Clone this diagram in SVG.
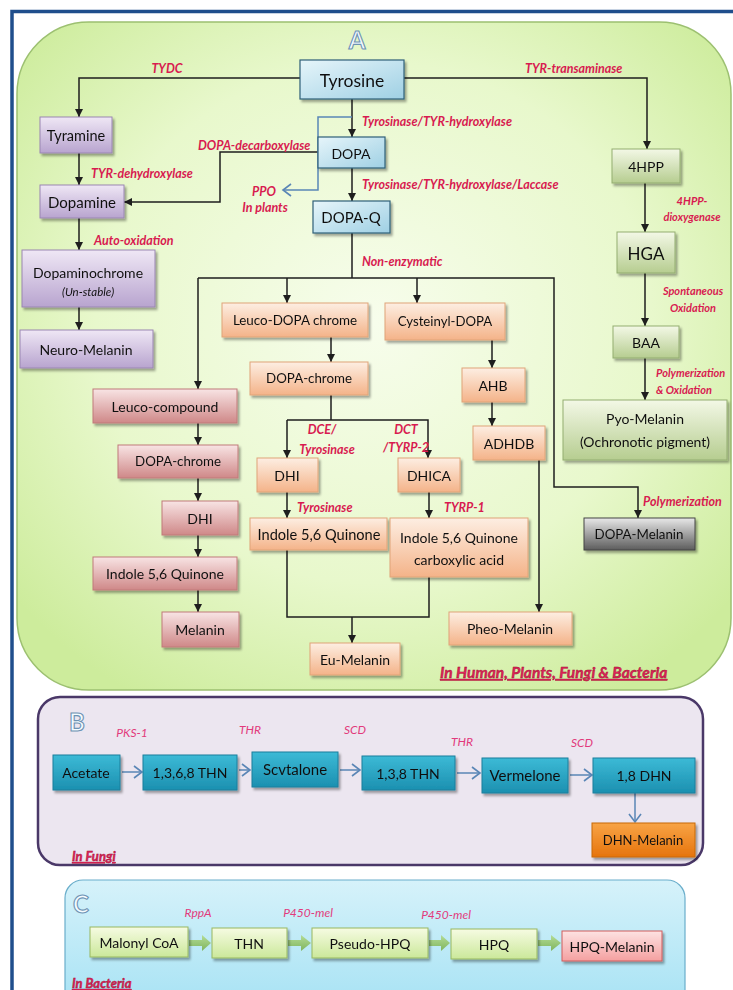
<svg xmlns="http://www.w3.org/2000/svg" width="733" height="990" viewBox="0 0 733 990">
<style>
text{font-family:Lato,"Noto Sans","Liberation Sans",sans-serif}
.t{font-size:14px;fill:#111;text-anchor:middle;dominant-baseline:central}
.l{font-size:12.5px;font-style:italic;font-weight:bold;fill:#d81b50}
.s{font-size:11px}
.m{text-anchor:middle}
.lb{font-size:12px;font-style:italic;fill:#e23a7c;text-anchor:middle}
.big{font-size:24px;font-weight:bold;fill:#f4fbff;stroke:#6e93b4;stroke-width:1.1;text-anchor:middle}
.reg{font-style:italic;font-weight:bold;fill:#e0245a;stroke:#9a0c2c;stroke-width:0.4;text-decoration:underline}
.c{fill:none;stroke:#1e1e1e;stroke-width:1.5}
.ca{fill:none;stroke:#1e1e1e;stroke-width:1.5;marker-end:url(#ah)}
.cb{fill:none;stroke:#5a86b6;stroke-width:1.5;marker-end:url(#ob)}
.ga{fill:url(#gA);stroke:#2f5f78;stroke-width:1.2}
.gp{fill:url(#gP);stroke:#9a86b2;stroke-width:1}
.gg{fill:url(#gG);stroke:#93ad70;stroke-width:1}
.go{fill:url(#gO);stroke:#e0a478;stroke-width:1}
.gk{fill:url(#gK);stroke:#c07a7a;stroke-width:1}
.gy{fill:url(#gY);stroke:#444;stroke-width:1}
.gt{fill:url(#gT);stroke:#1d7f9c;stroke-width:1}
.gd{fill:url(#gD);stroke:#c86808;stroke-width:1}
.gl{fill:url(#gL);stroke:#98b860;stroke-width:1}
.gh{fill:url(#gH);stroke:#d05c5c;stroke-width:1}
.sh{filter:url(#ds)}
</style>
<defs>
<filter id="ds" x="-10%" y="-10%" width="130%" height="140%"><feDropShadow dx="2" dy="2.5" stdDeviation="1.3" flood-color="#000" flood-opacity="0.35"/></filter>
<marker id="ah" markerUnits="userSpaceOnUse" markerWidth="9" markerHeight="9" refX="8" refY="4.5" orient="auto"><path d="M0,0.5 L8,4.5 L0,8.5 z" fill="#1e1e1e"/></marker>
<marker id="ob" markerUnits="userSpaceOnUse" markerWidth="12" markerHeight="14" refX="10" refY="7" orient="auto"><path d="M2,1 L10,7 L2,13" fill="none" stroke="#5a86b6" stroke-width="1.6"/></marker>
<radialGradient id="gPanA" cx="50%" cy="45%" r="65%"><stop offset="0" stop-color="#f7fdec"/><stop offset="0.6" stop-color="#e8f8cc"/><stop offset="1" stop-color="#cdec9c"/></radialGradient>
<linearGradient id="gPanC" x1="0" y1="0" x2="0" y2="1"><stop offset="0" stop-color="#d6f2fa"/><stop offset="1" stop-color="#a6e2f4"/></linearGradient>
<linearGradient id="gA" x1="0" y1="0" x2="1" y2="1"><stop offset="0" stop-color="#e6f5fa"/><stop offset="1" stop-color="#9fd0e4"/></linearGradient>
<linearGradient id="gP" x1="0" y1="0" x2="0" y2="1"><stop offset="0" stop-color="#efe7f5"/><stop offset="1" stop-color="#b8a4cf"/></linearGradient>
<linearGradient id="gG" x1="0" y1="0" x2="0" y2="1"><stop offset="0" stop-color="#f3f8e6"/><stop offset="1" stop-color="#b6cd90"/></linearGradient>
<linearGradient id="gO" x1="0" y1="0" x2="0" y2="1"><stop offset="0" stop-color="#fdeee2"/><stop offset="1" stop-color="#f4b389"/></linearGradient>
<linearGradient id="gK" x1="0" y1="0" x2="0" y2="1"><stop offset="0" stop-color="#f8e4e4"/><stop offset="1" stop-color="#cf8888"/></linearGradient>
<linearGradient id="gY" x1="0" y1="0" x2="0" y2="1"><stop offset="0" stop-color="#e8e8e8"/><stop offset="1" stop-color="#5c5c5c"/></linearGradient>
<linearGradient id="gT" x1="0" y1="0" x2="0" y2="1"><stop offset="0" stop-color="#3cbad6"/><stop offset="1" stop-color="#1c90b0"/></linearGradient>
<linearGradient id="gD" x1="0" y1="0" x2="0" y2="1"><stop offset="0" stop-color="#f8a446"/><stop offset="1" stop-color="#e6740c"/></linearGradient>
<linearGradient id="gL" x1="0" y1="0" x2="0" y2="1"><stop offset="0" stop-color="#f6fbe2"/><stop offset="1" stop-color="#cbe89a"/></linearGradient>
<linearGradient id="gH" x1="0" y1="0" x2="0" y2="1"><stop offset="0" stop-color="#fde2e2"/><stop offset="1" stop-color="#f4a0a0"/></linearGradient>
<linearGradient id="gArr" x1="0" y1="0" x2="0" y2="1"><stop offset="0" stop-color="#b4dc96"/><stop offset="1" stop-color="#7fb45e"/></linearGradient>
</defs>
<rect width="733" height="990" fill="#ffffff"/>
<!-- frame -->
<path d="M12,990 V11.5 H733" fill="none" stroke="#1f4e8c" stroke-width="3.5"/>
<!-- panels -->
<rect id="panelA" x="17" y="22" width="714" height="668" rx="72" fill="url(#gPanA)" stroke="#9cc070" stroke-width="1.5"/>
<rect id="panelB" x="38" y="697" width="665" height="168" rx="22" fill="#ece6f0" stroke="#4a3868" stroke-width="2.5"/>
<rect id="panelC" x="65" y="880" width="620" height="130" rx="18" fill="url(#gPanC)" stroke="#6aaecb" stroke-width="1.2"/>
<text class="big" x="357" y="49">A</text>
<text class="big" x="77" y="731">B</text>
<text class="big" x="81" y="913">C</text>

<g id="connectors">
<path class="ca" d="M300,78 H79 V117"/>
<path class="ca" d="M404,78 H647 V149"/>
<path class="ca" d="M352,99 V137"/>
<path class="ca" d="M352,168 V201"/>
<path class="ca" d="M318,152 H220 V202 H124"/>
<path class="cb" d="M352,117 H318 V190 H283"/>
<path class="ca" d="M79,153 V185"/>
<path class="ca" d="M79,218 V250"/>
<path class="ca" d="M79,307 V330"/>
<path class="c" d="M352,233 V278"/>
<path class="ca" d="M198,278 V389"/>
<path class="ca" d="M198,278 H554 V487 H638 V518"/>
<path class="ca" d="M287,278 V303"/>
<path class="ca" d="M417,278 V303"/>
<path class="ca" d="M331,337 V362"/>
<path class="c" d="M331,395 V420"/>
<path class="ca" d="M287,420 V458"/>
<path class="ca" d="M287,420 H428 V458"/>
<path class="ca" d="M287,492 V518"/>
<path class="ca" d="M429,492 V518"/>
<path class="c" d="M287,550 V617 H429 V577"/>
<path class="ca" d="M352,617 V643"/>
<path class="ca" d="M492,340 V368"/>
<path class="ca" d="M492,402 V426"/>
<path class="ca" d="M539,460 V612"/>
<path class="ca" d="M645,183 V232"/>
<path class="ca" d="M645,273 V326"/>
<path class="ca" d="M645,358 V400"/>
<path class="ca" d="M198,423 V445"/>
<path class="ca" d="M198,478 V501"/>
<path class="ca" d="M198,535 V557"/>
<path class="ca" d="M198,590 V612"/>
<!-- panel B -->
<path class="cb" d="M122,772 H142"/>
<path class="cb" d="M239,770 H250"/>
<path class="cb" d="M340,770 H360"/>
<path class="cb" d="M457,773 H480"/>
<path class="cb" d="M570,775 H592"/>
<path class="cb" d="M635,793 V822"/>
<!-- panel C block arrows -->
<polygon fill="url(#gArr)" points="189,940 202,940 202,935 211,943 202,951 202,946 189,946"/>
<polygon fill="url(#gArr)" points="288,940 301,940 301,935 311,943 301,951 301,946 288,946"/>
<polygon fill="url(#gArr)" points="429,940 441,940 441,935 450,943 441,951 441,946 429,946"/>
<polygon fill="url(#gArr)" points="538,940 551,940 551,935 561,943 551,951 551,946 538,946"/>
</g>

<g id="labels">
<text class="l m" x="167" y="73">TYDC</text>
<text class="l" x="525" y="73">TYR-transaminase</text>
<text class="l" x="362" y="126">Tyrosinase/TYR-hydroxylase</text>
<text class="l" x="198" y="150">DOPA-decarboxylase</text>
<text class="l" x="91" y="178">TYR-dehydroxylase</text>
<text class="l m" x="264" y="196">PPO</text>
<text class="l m" x="265" y="212">In plants</text>
<text class="l" x="362" y="189">Tyrosinase/TYR-hydroxylase/Laccase</text>
<text class="l s m" x="692" y="205">4HPP-</text>
<text class="l s m" x="692" y="221">dioxygenase</text>
<text class="l" x="94" y="245">Auto-oxidation</text>
<text class="l" x="362" y="266">Non-enzymatic</text>
<text class="l s m" x="693" y="295">Spontaneous</text>
<text class="l s m" x="693" y="312">Oxidation</text>
<text class="l s" x="656" y="377">Polymerization</text>
<text class="l s" x="656" y="394">&amp; Oxidation</text>
<text class="l m" x="322" y="434">DCE/</text>
<text class="l m" x="327" y="454">Tyrosinase</text>
<text class="l m" x="406" y="434">DCT</text>
<text class="l m" x="406" y="452">/TYRP-2</text>
<text class="l" x="297" y="512">Tyrosinase</text>
<text class="l" x="444" y="512">TYRP-1</text>
<text class="l" x="643" y="506">Polymerization</text>
<text class="reg" x="440" y="678" style="font-size:15.5px">In Human, Plants, Fungi &amp; Bacteria</text>
<text class="lb" x="132" y="737">PKS-1</text>
<text class="lb" x="250" y="734">THR</text>
<text class="lb" x="355" y="734">SCD</text>
<text class="lb" x="462" y="746">THR</text>
<text class="lb" x="582" y="747">SCD</text>
<text class="reg" x="72" y="861" style="font-size:13px">In Fungi</text>
<text class="lb" x="198" y="917">RppA</text>
<text class="lb" x="308" y="917">P450-mel</text>
<text class="lb" x="446" y="919">P450-mel</text>
<text class="reg" x="72" y="988" style="font-size:13px">In Bacteria</text>
</g>

<g id="n-tyrosine" class="sh"><rect class="ga" x="300" y="60" width="104" height="39"/><text class="t" x="352" y="80" style="font-size:17.5px">Tyrosine</text></g>
<g id="n-dopa" class="sh"><rect class="ga" x="318" y="137" width="67" height="31"/><text class="t" x="351" y="153">DOPA</text></g>
<g id="n-dopaq" class="sh"><rect class="ga" x="313" y="201" width="77" height="32"/><text class="t" x="351" y="217" style="font-size:15px">DOPA-Q</text></g>
<g id="n-tyramine" class="sh"><rect class="gp" x="40" y="117" width="72" height="36"/><text class="t" x="76" y="135" style="font-size:14.5px">Tyramine</text></g>
<g id="n-dopamine" class="sh"><rect class="gp" x="40" y="185" width="84" height="33"/><text class="t" x="82" y="202" style="font-size:15px">Dopamine</text></g>
<g id="n-dopaminochrome" class="sh"><rect class="gp" x="22" y="250" width="133" height="57"/><text class="t" x="88" y="272">Dopaminochrome</text><text class="t" x="88" y="291" style="font-size:11.5px;font-style:italic">(Un-stable)</text></g>
<g id="n-neuromelanin" class="sh"><rect class="gp" x="20" y="330" width="133" height="38"/><text class="t" x="86" y="349">Neuro-Melanin</text></g>
<g id="n-4hpp" class="sh"><rect class="gg" x="612" y="149" width="68" height="34"/><text class="t" x="646" y="166">4HPP</text></g>
<g id="n-hga" class="sh"><rect class="gg" x="617" y="232" width="58" height="41"/><text class="t" x="646" y="253" style="font-size:17px">HGA</text></g>
<g id="n-baa" class="sh"><rect class="gg" x="613" y="326" width="66" height="32"/><text class="t" x="646" y="342">BAA</text></g>
<g id="n-pyomelanin" class="sh"><rect class="gg" x="563" y="400" width="164" height="60"/><text class="t" x="645" y="418">Pyo-Melanin</text><text class="t" x="645" y="441">(Ochronotic pigment)</text></g>
<g id="n-leucodopachrome" class="sh"><rect class="go" x="222" y="303" width="146" height="34"/><text class="t" x="295" y="320" style="font-size:13.4px">Leuco-DOPA chrome</text></g>
<g id="n-dopachrome-o" class="sh"><rect class="go" x="250" y="362" width="118" height="33"/><text class="t" x="309" y="378" style="font-size:13.3px">DOPA-chrome</text></g>
<g id="n-cysteinyldopa" class="sh"><rect class="go" x="385" y="303" width="120" height="37"/><text class="t" x="445" y="321" style="font-size:13.2px">Cysteinyl-DOPA</text></g>
<g id="n-ahb" class="sh"><rect class="go" x="462" y="368" width="63" height="34"/><text class="t" x="493" y="385">AHB</text></g>
<g id="n-adhdb" class="sh"><rect class="go" x="473" y="426" width="72" height="34"/><text class="t" x="509" y="443">ADHDB</text></g>
<g id="n-dhi-o" class="sh"><rect class="go" x="257" y="458" width="61" height="34"/><text class="t" x="287" y="475">DHI</text></g>
<g id="n-dhica" class="sh"><rect class="go" x="398" y="458" width="62" height="34"/><text class="t" x="429" y="475">DHICA</text></g>
<g id="n-indole-o" class="sh"><rect class="go" x="250" y="518" width="137" height="32"/><text class="t" x="319" y="534" style="font-size:14.6px">Indole 5,6 Quinone</text></g>
<g id="n-indolecarb" class="sh"><rect class="go" x="390" y="518" width="138" height="59"/><text class="t" x="459" y="537" style="font-size:14px">Indole 5,6 Quinone</text><text class="t" x="459" y="559">carboxylic acid</text></g>
<g id="n-eumelanin" class="sh"><rect class="go" x="310" y="643" width="90" height="32"/><text class="t" x="355" y="659">Eu-Melanin</text></g>
<g id="n-pheomelanin" class="sh"><rect class="go" x="449" y="612" width="123" height="33"/><text class="t" x="510" y="628">Pheo-Melanin</text></g>
<g id="n-dopamelanin" class="sh"><rect class="gy" x="584" y="518" width="111" height="32"/><text class="t" x="639" y="534" style="font-size:13.3px">DOPA-Melanin</text></g>
<g id="n-leucocompound" class="sh"><rect class="gk" x="93" y="389" width="144" height="34"/><text class="t" x="165" y="406">Leuco-compound</text></g>
<g id="n-dopachrome-p" class="sh"><rect class="gk" x="118" y="445" width="120" height="33"/><text class="t" x="178" y="461" style="font-size:13.3px">DOPA-chrome</text></g>
<g id="n-dhi-p" class="sh"><rect class="gk" x="162" y="501" width="76" height="34"/><text class="t" x="200" y="518">DHI</text></g>
<g id="n-indole-p" class="sh"><rect class="gk" x="93" y="557" width="144" height="33"/><text class="t" x="165" y="573">Indole 5,6 Quinone</text></g>
<g id="n-melanin" class="sh"><rect class="gk" x="162" y="612" width="77" height="35"/><text class="t" x="200" y="629">Melanin</text></g>

<g id="n-acetate" class="sh"><rect class="gt" x="53" y="755" width="67" height="35"/><text class="t" x="86" y="772">Acetate</text></g>
<g id="n-1368thn" class="sh"><rect class="gt" x="143" y="755" width="94" height="35"/><text class="t" x="190" y="772">1,3,6,8 THN</text></g>
<g id="n-scytalone" class="sh"><rect class="gt" x="252" y="752" width="86" height="35"/><text class="t" x="295" y="769" style="font-size:15px">Scvtalone</text></g>
<g id="n-138thn" class="sh"><rect class="gt" x="362" y="756" width="93" height="34"/><text class="t" x="408" y="773">1,3,8 THN</text></g>
<g id="n-vermelone" class="sh"><rect class="gt" x="482" y="758" width="86" height="35"/><text class="t" x="525" y="775" style="font-size:15px">Vermelone</text></g>
<g id="n-18dhn" class="sh"><rect class="gt" x="593" y="758" width="102" height="35"/><text class="t" x="644" y="775">1,8 DHN</text></g>
<g id="n-dhnmelanin" class="sh"><rect class="gd" x="592" y="823" width="103" height="34"/><text class="t" x="643" y="840" style="font-size:13px">DHN-Melanin</text></g>

<g id="n-malonyl" class="sh"><rect class="gl" x="90" y="927" width="98" height="30"/><text class="t" x="139" y="942">Malonyl CoA</text></g>
<g id="n-thn" class="sh"><rect class="gl" x="212" y="928" width="75" height="30"/><text class="t" x="249" y="943">THN</text></g>
<g id="n-pseudohpq" class="sh"><rect class="gl" x="312" y="928" width="116" height="30"/><text class="t" x="370" y="943">Pseudo-HPQ</text></g>
<g id="n-hpq" class="sh"><rect class="gl" x="451" y="929" width="86" height="30"/><text class="t" x="494" y="944">HPQ</text></g>
<g id="n-hpqmelanin" class="sh"><rect class="gh" x="562" y="931" width="100" height="30"/><text class="t" x="612" y="946">HPQ-Melanin</text></g>
</svg>
